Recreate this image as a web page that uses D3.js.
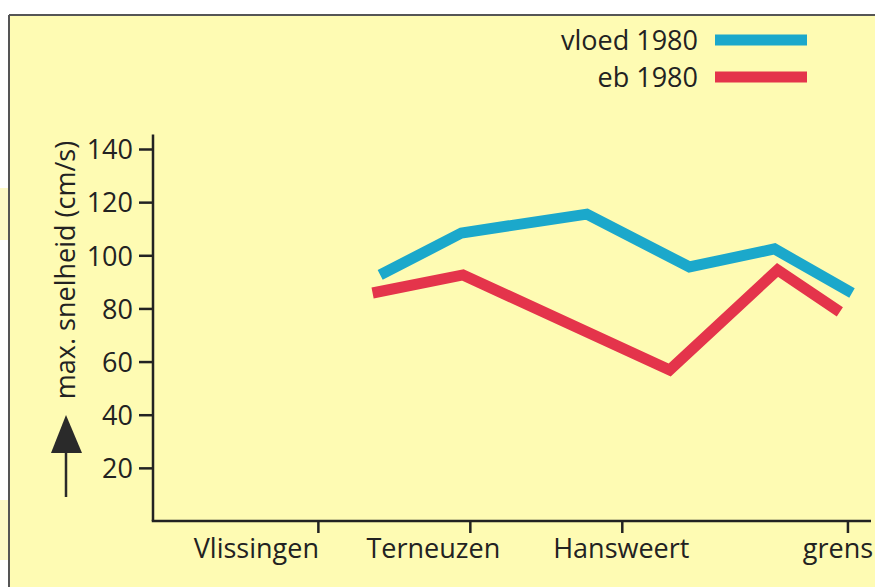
<!DOCTYPE html>
<html>
<head>
<meta charset="utf-8">
<script src="https://cdn.jsdelivr.net/npm/d3@7"></script>
<style>
  html, body { margin: 0; padding: 0; background: #ffffff; }
  svg { display: block; }
  text { font-family: "Open Sans", "Noto Sans", sans-serif; fill: #222; }
</style>
</head>
<body>
<svg id="chart" width="875" height="587"></svg>
<script>
// ---- data ----
const locations = ["Vlissingen", "Terneuzen", "Hansweert", "grens"];
const locationKm = [0, 20, 40, 69.7];
const yTicks = [20, 40, 60, 80, 100, 120, 140];
const seriesNames = ["vloed 1980", "eb 1980"];
const vloedKm = [8.2, 18.9, 35.4, 48.9, 60.1, 70.3];
const vloedValues = [92.6, 108.4, 115.5, 95.6, 102.4, 85.8];
const ebKm = [7.2, 19.1, 46.3, 60.5, 68.7];
const ebValues = [85.8, 92.6, 56.8, 94.5, 78.7];
const yTitle = "max. snelheid (cm/s)";

// ---- drawing ----
const W = 875, H = 587;
const FS = 27;
const colors = ["#1ba8cb", "#e4344b"];
const svg = d3.select("#chart");

// background / frame
svg.append("rect").attr("x", 0).attr("y", 0).attr("width", W).attr("height", H).attr("fill", "#ffffff");
svg.append("rect").attr("x", 0).attr("y", 188).attr("width", 9).attr("height", 52).attr("fill", "#fdf9c6");
svg.append("rect").attr("x", 0).attr("y", 500).attr("width", 9).attr("height", 60).attr("fill", "#fdf9c6");
svg.append("rect").attr("x", 10).attr("y", 16).attr("width", W - 10).attr("height", H - 16).attr("fill", "#fefbb3");
svg.append("line").attr("x1", 9).attr("x2", W).attr("y1", 15).attr("y2", 15).attr("stroke", "#555").attr("stroke-width", 2);
svg.append("line").attr("x1", 9).attr("x2", 9).attr("y1", 15).attr("y2", H).attr("stroke", "#555").attr("stroke-width", 2);

const x = d3.scaleLinear().domain([-21.7, 72.8]).range([153, 871]);
const y = d3.scaleLinear().domain([0, 140]).range([521, 149]);

// axis lines
svg.append("line").attr("x1", x(-21.7)).attr("x2", x(-21.7)).attr("y1", y(145.5)).attr("y2", y(0))
  .attr("stroke", "#222").attr("stroke-width", 2.5);
svg.append("line").attr("x1", x(-21.7) - 1.25).attr("x2", x(72.8)).attr("y1", y(0)).attr("y2", y(0))
  .attr("stroke", "#222").attr("stroke-width", 2.5);

// y axis
const yAxis = d3.axisLeft(y).tickValues(yTicks).tickSize(14).tickPadding(6).tickFormat(d3.format("d"));
const gy = svg.append("g").attr("transform", `translate(${x(-21.7)},0)`).call(yAxis);
gy.select(".domain").remove();
gy.selectAll(".tick line").attr("stroke", "#222").attr("stroke-width", 2.5);
gy.selectAll(".tick text").attr("font-size", FS).attr("fill", "#222")
  .attr("font-family", '"Open Sans", sans-serif').attr("dy", "0.36em");

// x axis
const labelDx = [-62, -37, -1, -10];
const xAxis = d3.axisBottom(x).tickValues(locationKm).tickSize(12).tickFormat((d, i) => locations[i]);
const gx = svg.append("g").attr("transform", `translate(0,${y(0)})`).call(xAxis);
gx.select(".domain").remove();
gx.selectAll(".tick line").attr("stroke", "#222").attr("stroke-width", 2.5);
gx.selectAll(".tick text").attr("font-size", FS).attr("fill", "#222")
  .attr("font-family", '"Open Sans", sans-serif')
  .attr("y", 37).attr("dy", 0)
  .attr("dx", (d, i) => labelDx[i]).attr("text-anchor", "middle");

// y title + arrow
svg.append("text").attr("transform", `translate(75,${270}) rotate(-90)`)
  .attr("text-anchor", "middle").attr("font-size", FS).text(yTitle);
svg.append("path").attr("d", "M66,415 L82,453 L51,453 Z").attr("fill", "#2a2a2a");
svg.append("line").attr("x1", 66).attr("x2", 66).attr("y1", 450).attr("y2", 497)
  .attr("stroke", "#2a2a2a").attr("stroke-width", 2.5);

// lines
const line = d3.line().x(d => x(d[0])).y(d => y(d[1]));
const vloed = vloedKm.map((k, i) => [k, vloedValues[i]]);
const eb = ebKm.map((k, i) => [k, ebValues[i]]);
[eb, vloed].forEach((data, j) => {
  const ci = j === 0 ? 1 : 0;
  svg.append("path").datum(data).attr("d", line)
    .attr("fill", "none").attr("stroke", colors[ci]).attr("stroke-width", 11)
    .attr("stroke-linejoin", "miter").attr("stroke-linecap", "butt");
});

// legend
seriesNames.forEach((name, i) => {
  const cy = 40 + i * 37;
  svg.append("text").attr("x", 698).attr("y", cy + 10).attr("text-anchor", "end")
    .attr("font-size", FS).text(name);
  svg.append("rect").attr("x", 715).attr("y", cy - 5.5).attr("width", 92).attr("height", 11)
    .attr("fill", colors[i]);
});
</script>
</body>
</html>
